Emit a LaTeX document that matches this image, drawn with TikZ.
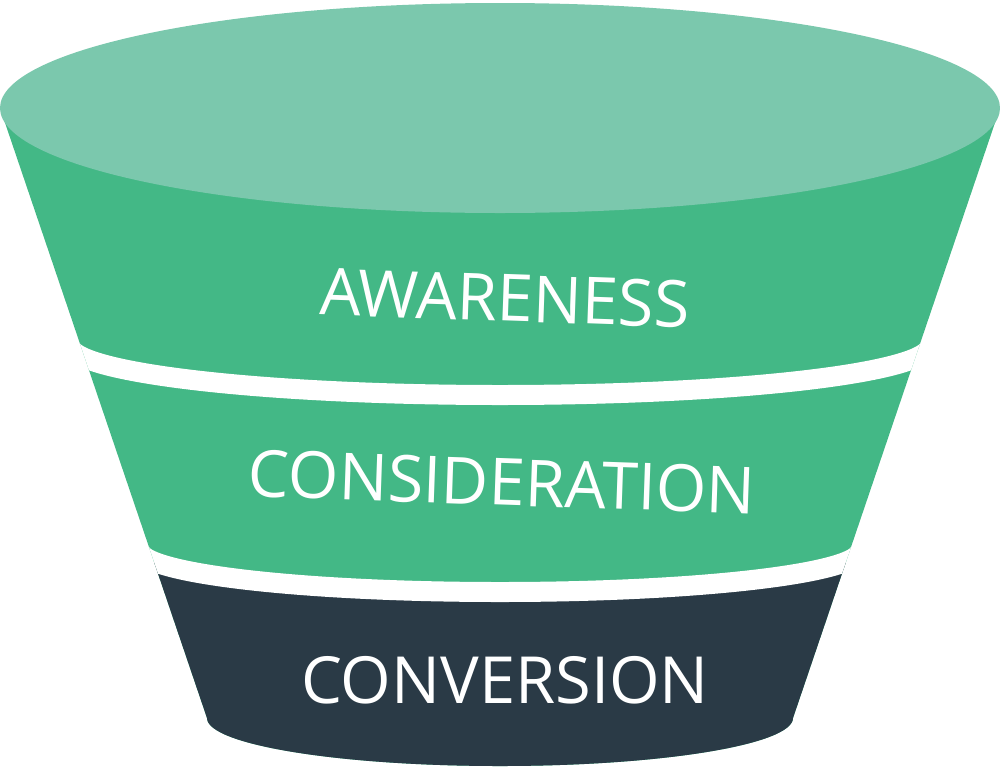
\documentclass[tikz,border=0pt]{standalone}
\usepackage{fontspec}
\setmainfont{Open Sans}
\definecolor{topc}{HTML}{7BC8AD}
\definecolor{band}{HTML}{43B886}
\definecolor{dark}{HTML}{2A3A46}
\begin{document}
\begin{tikzpicture}[x=1pt,y=-1pt,
  lbl/.style={text=white,font=\fontsize{65}{67}\selectfont}]
\useasboundingbox (0,0) rectangle (1000,769);
\begin{scope}
\clip (0,108) -- (207,718) arc[start angle=180,end angle=0,x radius=293,y radius=48] -- (1000,108) -- cycle;
\fill[band] (0,0) rectangle (1000,769);
\fill[dark] (140,550) arc[start angle=180,end angle=0,x radius=360,y radius=42] -- (1000,800) -- (0,800) -- cycle;
\draw[white,line width=20] (70,345) arc[start angle=180,end angle=0,x radius=430,y radius=50];
\draw[white,line width=20] (140,550) arc[start angle=180,end angle=0,x radius=360,y radius=42];
\end{scope}
\fill[topc] (500,108) ellipse[x radius=500,y radius=105];
\node[lbl,rotate=-2] (a) at (505,298) {AWARENESS};
\node[lbl,rotate=-2] (b) at (502,482) {CONSIDERATION};
\node[lbl] (c) at (505,680) {CONVERSION};
\end{tikzpicture}
\end{document}
